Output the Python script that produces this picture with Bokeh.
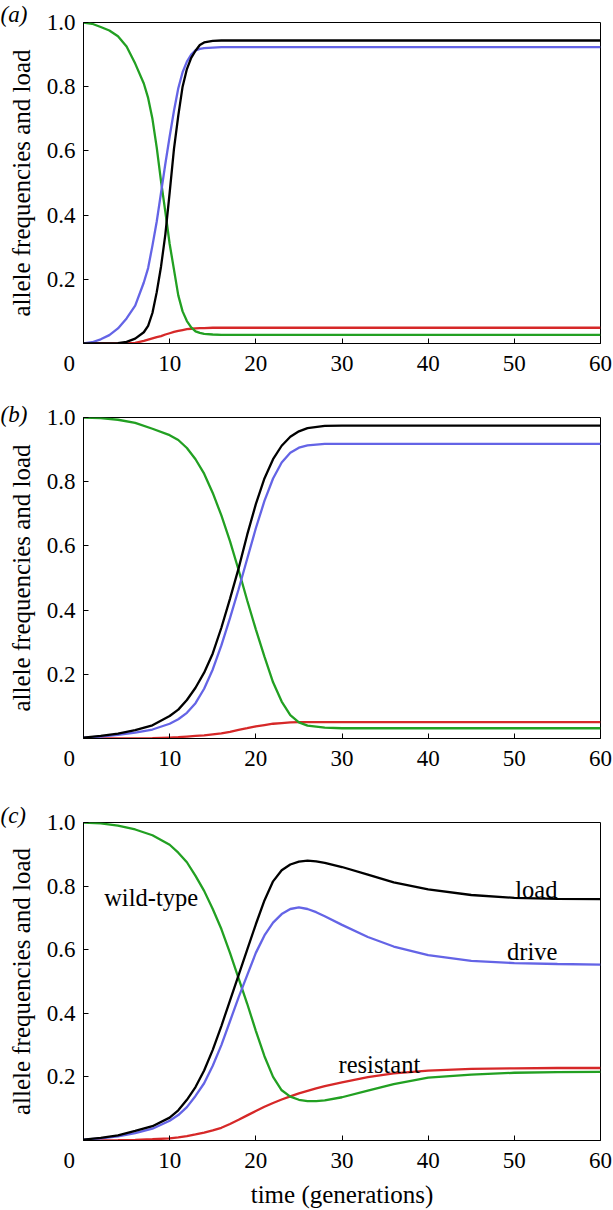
from bokeh.plotting import figure
from bokeh.layouts import column
from bokeh.models import Label, FixedTicker, Range1d, NumeralTickFormatter, Title
from bokeh.embed import file_html
from bokeh.resources import INLINE

# ---------------- data ----------------
x_ticks = [0, 10, 20, 30, 40, 50, 60]
y_ticks = [0.2, 0.4, 0.6, 0.8, 1.0]

# panel (a)
t_a = [0, 1, 2, 3, 4, 5, 6, 7, 7.5, 8, 8.5, 9, 9.5, 10, 10.5, 11, 11.5, 12, 12.5, 13, 13.5, 14, 15, 16, 18, 20, 60]
wild_a = [1.0, 0.996, 0.986, 0.975, 0.957, 0.925, 0.872, 0.81, 0.765, 0.70, 0.61, 0.505, 0.41, 0.31, 0.23, 0.15, 0.10, 0.07, 0.05, 0.038, 0.033, 0.03, 0.028, 0.027, 0.027, 0.027, 0.027]
drive_a = [0.0, 0.004, 0.013, 0.026, 0.047, 0.078, 0.118, 0.19, 0.235, 0.305, 0.38, 0.47, 0.56, 0.645, 0.725, 0.795, 0.845, 0.878, 0.90, 0.913, 0.918, 0.92, 0.922, 0.923, 0.923, 0.923, 0.923]
load_a = [0.0, 0.0, 0.0, 0.0, 0.001, 0.005, 0.015, 0.035, 0.055, 0.095, 0.16, 0.24, 0.34, 0.47, 0.606, 0.71, 0.80, 0.855, 0.89, 0.912, 0.93, 0.938, 0.943, 0.944, 0.944, 0.944, 0.944]
resist_a = [0.0, 0.0, 0.0, 0.0, 0.0, 0.0, 0.002, 0.008, 0.012, 0.016, 0.02, 0.023, 0.028, 0.032, 0.036, 0.039, 0.042, 0.045, 0.046, 0.047, 0.048, 0.048, 0.049, 0.049, 0.049, 0.049, 0.049]

# panel (b)
t_b = [0, 2, 4, 6, 8, 10, 11, 12, 13, 14, 15, 16, 17, 18, 19, 20, 21, 22, 23, 24, 25, 26, 28, 30, 35, 60]
wild_b = [1.0, 0.998, 0.993, 0.983, 0.965, 0.945, 0.93, 0.905, 0.87, 0.825, 0.765, 0.695, 0.615, 0.525, 0.43, 0.34, 0.255, 0.175, 0.115, 0.073, 0.05, 0.04, 0.034, 0.032, 0.032, 0.032]
drive_b = [0.003, 0.006, 0.011, 0.018, 0.028, 0.046, 0.06, 0.08, 0.11, 0.155, 0.215, 0.29, 0.375, 0.465, 0.56, 0.655, 0.74, 0.81, 0.86, 0.89, 0.906, 0.913, 0.918, 0.918, 0.918, 0.918]
load_b = [0.003, 0.008, 0.015, 0.026, 0.041, 0.07, 0.09, 0.12, 0.158, 0.205, 0.265, 0.345, 0.435, 0.53, 0.635, 0.73, 0.81, 0.87, 0.912, 0.94, 0.957, 0.967, 0.974, 0.975, 0.975, 0.975]
resist_b = [0, 0, 0, 0.0005, 0.001, 0.003, 0.004, 0.006, 0.008, 0.01, 0.013, 0.016, 0.021, 0.027, 0.032, 0.038, 0.042, 0.046, 0.048, 0.05, 0.051, 0.051, 0.051, 0.051, 0.051, 0.051]

# panel (c)
t_c = [0, 2, 4, 6, 8, 10, 11, 12, 13, 14, 15, 16, 17, 18, 19, 20, 21, 22, 23, 24, 25, 26, 27, 28, 30, 33, 36, 40, 45, 50, 55, 60]
wild_c = [1.0, 0.997, 0.99, 0.978, 0.96, 0.93, 0.905, 0.875, 0.832, 0.785, 0.728, 0.665, 0.59, 0.51, 0.43, 0.345, 0.265, 0.2, 0.158, 0.138, 0.128, 0.124, 0.124, 0.126, 0.136, 0.157, 0.177, 0.198, 0.207, 0.213, 0.215, 0.216]
drive_c = [0.003, 0.007, 0.013, 0.023, 0.037, 0.062, 0.08, 0.105, 0.14, 0.18, 0.235, 0.3, 0.375, 0.45, 0.52, 0.59, 0.645, 0.685, 0.712, 0.728, 0.733, 0.728, 0.718, 0.705, 0.678, 0.64, 0.61, 0.583, 0.565, 0.558, 0.555, 0.553]
load_c = [0.003, 0.008, 0.016, 0.03, 0.045, 0.072, 0.095, 0.128, 0.168, 0.22, 0.285, 0.36, 0.44, 0.52, 0.6, 0.68, 0.755, 0.815, 0.85, 0.868, 0.877, 0.88, 0.878, 0.873, 0.86, 0.836, 0.812, 0.79, 0.772, 0.763, 0.76, 0.759]
resist_c = [0, 0.0005, 0.001, 0.002, 0.004, 0.007, 0.01, 0.014, 0.019, 0.025, 0.032, 0.04, 0.052, 0.065, 0.079, 0.093, 0.106, 0.118, 0.129, 0.139, 0.148, 0.156, 0.164, 0.171, 0.183, 0.199, 0.211, 0.22, 0.225, 0.227, 0.228, 0.228]

# ---------------- style ----------------
FONT = "Liberation Serif"
GREEN = "#22a022"
BLUE = "#6464e6"
RED = "#d62828"
BLACK = "#000000"
LW = 2.3
LEFT = 83
NB = "\u00a0"


def make_panel(t, wild, drive, resist, load, letter, letter_standoff, height, top, bottom,
               xlabel=None):
    p = figure(width=613, height=height, x_range=Range1d(0, 60), y_range=Range1d(0, 1),
               output_backend="svg", toolbar_location=None,
               min_border_left=LEFT, min_border_right=13,
               min_border_top=top, min_border_bottom=bottom)
    p.grid.visible = False
    p.outline_line_color = "black"
    p.outline_line_width = 1
    p.background_fill_color = "white"
    p.border_fill_color = "white"

    # panel letter, in the top-left corner
    p.add_layout(Title(text="(" + letter + ")", align="left", offset=-LEFT,
                       standoff=letter_standoff, text_font=FONT, text_font_size="23px",
                       text_font_style="italic", text_color="black"), "above")

    p.xaxis.ticker = FixedTicker(ticks=x_ticks)
    p.yaxis.ticker = FixedTicker(ticks=y_ticks)
    p.yaxis.formatter = NumeralTickFormatter(format="0.0")
    # the "0" label sits left of the corner in the original
    p.xaxis.major_label_overrides = {0: "0" + NB * 5}
    for ax in (p.xaxis[0], p.yaxis[0]):
        ax.axis_line_color = "black"
        ax.axis_line_width = 1
        ax.major_tick_line_color = "black"
        ax.major_tick_in = 5
        ax.major_tick_out = 0
        ax.minor_tick_in = 0
        ax.minor_tick_out = 0
        ax.major_label_text_font = FONT
        ax.major_label_text_font_size = "23px"
        ax.major_label_text_color = "black"
    p.xaxis.major_label_standoff = 7
    p.yaxis.major_label_standoff = 8

    p.yaxis.axis_label = "allele frequencies and load"
    p.yaxis.axis_label_text_font = FONT
    p.yaxis.axis_label_text_font_size = "25px"
    p.yaxis.axis_label_text_font_style = "normal"
    p.yaxis.axis_label_text_color = "black"
    p.yaxis.axis_label_standoff = 9
    if xlabel:
        p.xaxis.axis_label = xlabel
        p.xaxis.axis_label_text_font = FONT
        p.xaxis.axis_label_text_font_size = "25px"
        p.xaxis.axis_label_text_font_style = "normal"
        p.xaxis.axis_label_text_color = "black"
        p.xaxis.axis_label_standoff = 5

    p.line(t, resist, line_color=RED, line_width=LW)
    p.line(t, wild, line_color=GREEN, line_width=LW)
    p.line(t, drive, line_color=BLUE, line_width=LW)
    p.line(t, load, line_color=BLACK, line_width=LW)
    return p


pa = make_panel(t_a, wild_a, drive_a, resist_a, load_a, "a", -8, 395, 22, 52)
pb = make_panel(t_b, wild_b, drive_b, resist_b, load_b, "b", -19, 400, 22, 57)
pc = make_panel(t_c, wild_c, drive_c, resist_c, load_c, "c", -10, 415, 27, 67,
                xlabel="time (generations)")

for txt, x, y, align in [("wild-type", 2.4, 0.764, "left"),
                         ("load", 55.0, 0.790, "right"),
                         ("drive", 55.0, 0.593, "right"),
                         ("resistant", 29.6, 0.238, "left")]:
    pc.add_layout(Label(x=x, y=y, text=txt, text_font=FONT, text_font_size="24.5px",
                        text_align=align, text_baseline="alphabetic", text_color="black"))

layout = column(pa, pb, pc, spacing=0)
open("out.html", "w").write(file_html(layout, INLINE))
